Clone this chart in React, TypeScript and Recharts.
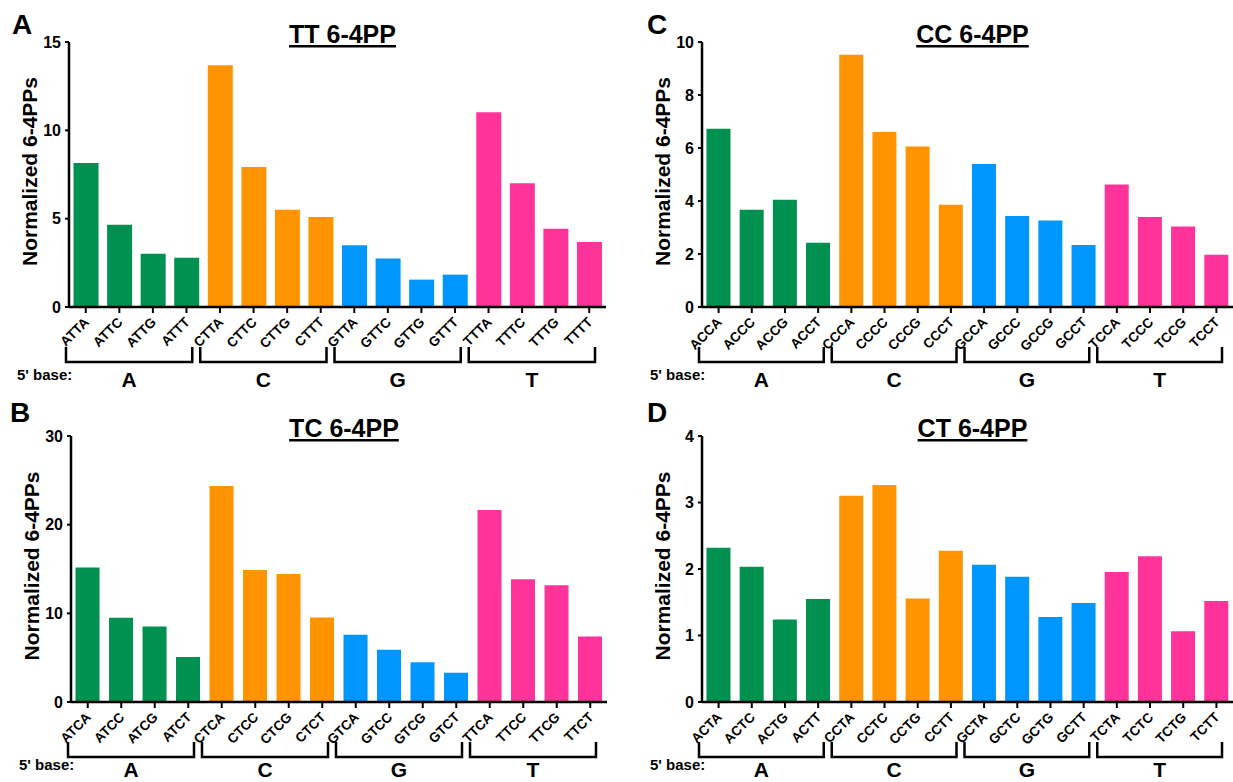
import { BarChart, Bar, XAxis, YAxis, Cell } from 'recharts';

const FONT = '"Liberation Sans", Arial, Helvetica, sans-serif';

// 5' base groups and their bar colours
const groups = ['A', 'C', 'G', 'T'];
const groupColors = ['#00904F', '#FF9300', '#0096FF', '#FF3399'];

// TT 6-4PP
const ttCats = ['ATTA', 'ATTC', 'ATTG', 'ATTT', 'CTTA', 'CTTC', 'CTTG', 'CTTT', 'GTTA', 'GTTC', 'GTTG', 'GTTT', 'TTTA', 'TTTC', 'TTTG', 'TTTT'];
const ttValues = [8.15, 4.66, 3.02, 2.79, 13.68, 7.92, 5.51, 5.09, 3.49, 2.74, 1.55, 1.83, 11.02, 7.0, 4.43, 3.68];
const ttTicks = [0, 5, 10, 15];

// TC 6-4PP
const tcCats = ['ATCA', 'ATCC', 'ATCG', 'ATCT', 'CTCA', 'CTCC', 'CTCG', 'CTCT', 'GTCA', 'GTCC', 'GTCG', 'GTCT', 'TTCA', 'TTCC', 'TTCG', 'TTCT'];
const tcValues = [15.16, 9.49, 8.52, 5.07, 24.35, 14.9, 14.45, 9.53, 7.58, 5.89, 4.47, 3.3, 21.65, 13.85, 13.17, 7.39];
const tcTicks = [0, 10, 20, 30];

// CC 6-4PP
const ccCats = ['ACCA', 'ACCC', 'ACCG', 'ACCT', 'CCCA', 'CCCC', 'CCCG', 'CCCT', 'GCCA', 'GCCC', 'GCCG', 'GCCT', 'TCCA', 'TCCC', 'TCCG', 'TCCT'];
const ccValues = [6.73, 3.67, 4.05, 2.42, 9.52, 6.6, 6.06, 3.86, 5.4, 3.43, 3.26, 2.34, 4.62, 3.4, 3.04, 1.97];
const ccTicks = [0, 2, 4, 6, 8, 10];

// CT 6-4PP
const ctCats = ['ACTA', 'ACTC', 'ACTG', 'ACTT', 'CCTA', 'CCTC', 'CCTG', 'CCTT', 'GCTA', 'GCTC', 'GCTG', 'GCTT', 'TCTA', 'TCTC', 'TCTG', 'TCTT'];
const ctValues = [2.32, 2.035, 1.24, 1.55, 3.1, 3.265, 1.555, 2.275, 2.065, 1.885, 1.28, 1.49, 1.955, 2.19, 1.065, 1.52];
const ctTicks = [0, 1, 2, 3, 4];

interface PanelProps {
    letter: string;
    title: string;
    cats: string[];
    values: number[];
    ticks: number[];
    left: number;
    top: number;
    width: number;
    height: number;
    yAxisWidth: number;
    marginRight: number;
    plotHeight: number;
    letterX: number;
    letterY: number;
    labelDrop: number;
}

function GroupTick(props: any) {
    const { x, y, payload, index, bw, labelDrop } = props;
    const i = index as number;
    const g = Math.floor(i / 4);
    const isFirst = i % 4 === 0;
    const x0 = x - bw / 2 - 3;
    const x1 = x + 3.5 * bw - 11;
    return (
        <g>
            <text
                x={x + 4}
                y={y + 10}
                transform={`rotate(-45, ${x + 4}, ${y + 10})`}
                textAnchor="end"
                fontFamily={FONT}
                fontWeight="bold"
                fontSize={13.5}
                fill="#000"
            >
                {payload.value}
            </text>
            {isFirst && (
                <>
                    <path
                        d={`M${x0},${y + 34} V${y + 49} H${x1} V${y + 34}`}
                        stroke="#000"
                        strokeWidth={2.5}
                        fill="none"
                    />
                    <text
                        x={(x0 + x1) / 2}
                        y={y + labelDrop}
                        textAnchor="middle"
                        fontFamily={FONT}
                        fontWeight="bold"
                        fontSize={21}
                        fill="#000"
                    >
                        {groups[g]}
                    </text>
                </>
            )}
            {i === 0 && (
                <text
                    x={x - bw / 2 - 52}
                    y={y + labelDrop - 7}
                    fontFamily={FONT}
                    fontWeight="bold"
                    fontSize={15}
                    fill="#000"
                >
                    5' base:
                </text>
            )}
        </g>
    );
}

function Panel(p: PanelProps) {
    const data = p.cats.map((c, i) => ({ cat: c, v: p.values[i] }));
    const marginTop = 42;
    const plotLeft = p.yAxisWidth;
    const plotRight = p.width - p.marginRight;
    const bw = (plotRight - plotLeft) / p.cats.length;
    const xAxisHeight = p.height - marginTop - p.plotHeight;
    const yMax = p.ticks[p.ticks.length - 1];

    return (
        <div style={{ position: 'absolute', left: p.left, top: p.top, width: p.width, height: p.height }}>
            <BarChart
                width={p.width}
                height={p.height}
                data={data}
                margin={{ top: marginTop, right: p.marginRight, left: 0, bottom: 0 }}
                barCategoryGap="13.5%"
            >
                <XAxis
                    dataKey="cat"
                    interval={0}
                    height={xAxisHeight}
                    axisLine={{ stroke: '#000', strokeWidth: 2.5 }}
                    tickLine={{ stroke: '#000', strokeWidth: 2 }}
                    tickSize={6}
                    tickMargin={0}
                    tick={(t: any) => <GroupTick {...t} bw={bw} labelDrop={p.labelDrop} />}
                />
                <YAxis
                    width={p.yAxisWidth}
                    domain={[0, yMax]}
                    ticks={p.ticks}
                    interval={0}
                    axisLine={{ stroke: '#000', strokeWidth: 2.5 }}
                    tickLine={{ stroke: '#000', strokeWidth: 2 }}
                    tickSize={4}
                    tickMargin={4}
                    tick={{ fill: '#000', fontSize: 16, fontWeight: 'bold', fontFamily: FONT }}
                />
                <Bar dataKey="v" isAnimationActive={false}>
                    {data.map((d, i) => (
                        <Cell key={d.cat} fill={groupColors[Math.floor(i / 4)]} />
                    ))}
                </Bar>
            </BarChart>

            {/* panel letter, title and y label */}
            <svg
                width={p.width}
                height={p.height}
                style={{ position: 'absolute', left: 0, top: 0, pointerEvents: 'none' }}
            >
                <text x={p.letterX} y={p.letterY} fontFamily={FONT} fontWeight="bold" fontSize={28} fill="#000">
                    {p.letter}
                </text>
                <text
                    x={(plotLeft + plotRight) / 2 + 5}
                    y={43}
                    textAnchor="middle"
                    fontFamily={FONT}
                    fontWeight="bold"
                    fontSize={25}
                    fill="#000"
                    textDecoration="underline"
                >
                    {p.title}
                </text>
                <text
                    transform={`translate(${p.yAxisWidth - 40}, ${marginTop + p.plotHeight / 2 - 3}) rotate(-90)`}
                    y={7.5}
                    textAnchor="middle"
                    fontFamily={FONT}
                    fontWeight="bold"
                    fontSize={21}
                    fill="#000"
                >
                    Normalized 6-4PPs
                </text>
            </svg>
        </div>
    );
}

export default function App() {
    return (
        <div
            style={{
                position: 'absolute',
                left: 0,
                top: 0,
                width: 1233,
                height: 782,
                overflow: 'hidden',
                background: '#fff',
            }}
        >
            <Panel letter="A" title="TT 6-4PP" cats={ttCats} values={ttValues} ticks={ttTicks}
                left={0} top={0} width={610} height={396} yAxisWidth={69} marginRight={4} plotHeight={265}
                letterX={12} letterY={34} labelDrop={74} />
            <Panel letter="C" title="CC 6-4PP" cats={ccCats} values={ccValues} ticks={ccTicks}
                left={620} top={0} width={613} height={396} yAxisWidth={82} marginRight={0} plotHeight={265}
                letterX={27} letterY={34} labelDrop={74} />
            <Panel letter="B" title="TC 6-4PP" cats={tcCats} values={tcValues} ticks={tcTicks}
                left={0} top={394} width={610} height={388} yAxisWidth={71} marginRight={3} plotHeight={266}
                letterX={10} letterY={28} labelDrop={69} />
            <Panel letter="D" title="CT 6-4PP" cats={ctCats} values={ctValues} ticks={ctTicks}
                left={620} top={394} width={613} height={388} yAxisWidth={82} marginRight={0} plotHeight={266}
                letterX={27} letterY={28} labelDrop={69} />
        </div>
    );
}
